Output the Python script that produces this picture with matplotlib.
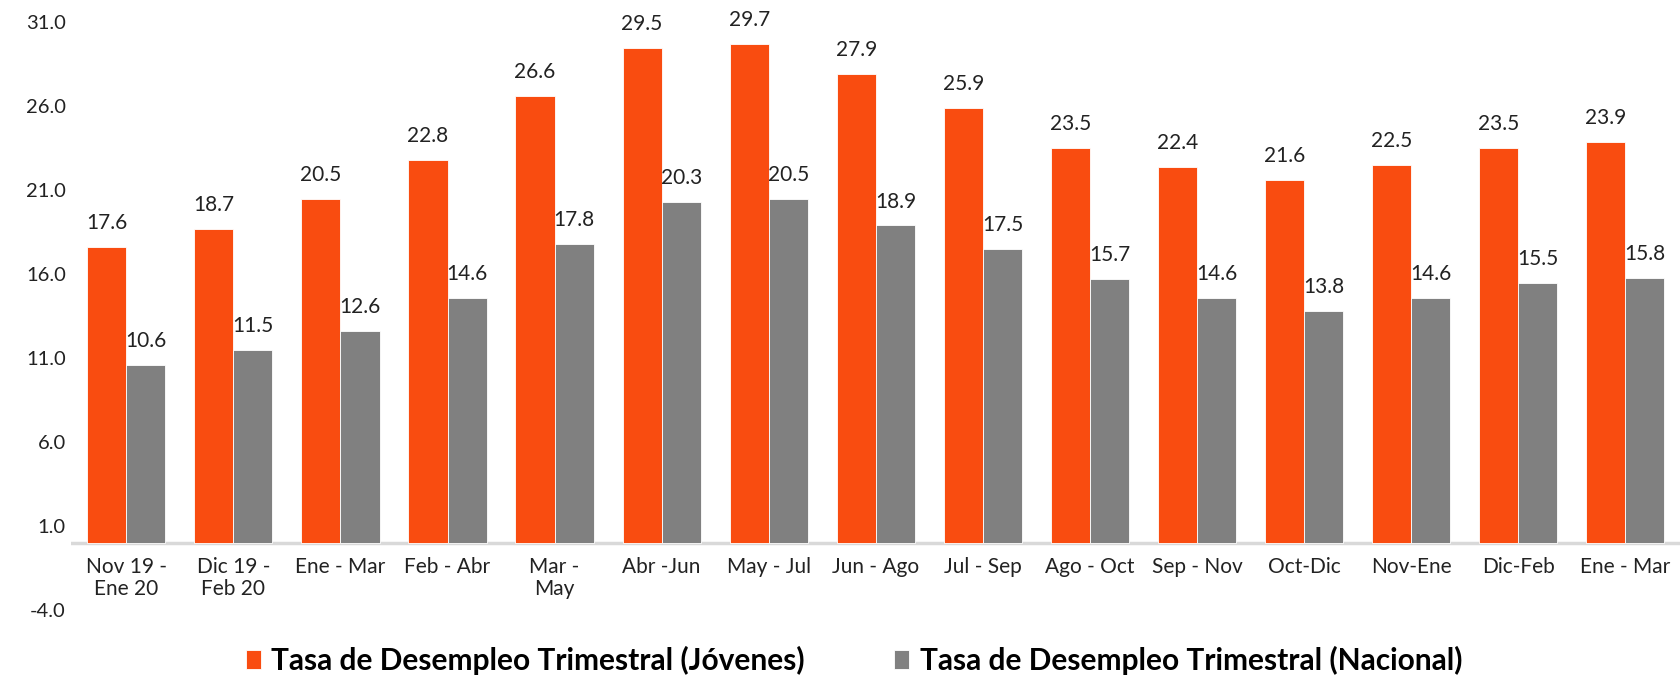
import matplotlib.pyplot as plt
import numpy as np

periodos = ["Nov 19 -\nEne 20", "Dic 19 -\nFeb 20", "Ene - Mar", "Feb - Abr", "Mar -\nMay",
            "Abr -Jun", "May - Jul", "Jun - Ago", "Jul - Sep", "Ago - Oct",
            "Sep - Nov", "Oct-Dic", "Nov-Ene", "Dic-Feb", "Ene - Mar"]
jovenes = [17.6, 18.7, 20.5, 22.8, 26.6, 29.5, 29.7, 27.9, 25.9, 23.5, 22.4, 21.6, 22.5, 23.5, 23.9]
nacional = [10.6, 11.5, 12.6, 14.6, 17.8, 20.3, 20.5, 18.9, 17.5, 15.7, 14.6, 13.8, 14.6, 15.5, 15.8]
yticks = [-4.0, 1.0, 6.0, 11.0, 16.0, 21.0, 26.0, 31.0]

plt.rcParams['font.family'] = ['Lato', 'DejaVu Sans']

fig = plt.figure(figsize=(16.81, 6.77), dpi=100)
ax = fig.add_axes([0.042, 0.099, 0.958, 0.868])

x = np.arange(len(periodos))
w = 0.365
b1 = ax.bar(x - w / 2, jovenes, w, color='#F94C10', edgecolor='white', linewidth=0.6,
            label='Tasa de Desempleo Trimestral (Jóvenes)')
b2 = ax.bar(x + w / 2, nacional, w, color='#808080', edgecolor='white', linewidth=0.6,
            label='Tasa de Desempleo Trimestral (Nacional)')

for bars, vals in [(b1, jovenes), (b2, nacional)]:
    for r, v in zip(bars, vals):
        ax.annotate(f"{v:.1f}", (r.get_x() + r.get_width() / 2, v), xytext=(0, 10),
                    textcoords='offset points', ha='center', va='bottom',
                    fontsize=15, color='#222222')

ax.axhline(0, color='#d9d9d9', linewidth=2.5, zorder=0)
ax.set_xlim(-0.52, len(periodos) - 0.48)
ax.set_ylim(-4, 31)
ax.set_yticks(yticks)
ax.set_yticklabels([f"{t:.1f}" for t in yticks], fontsize=14.5, color='#222222')
ax.set_xticks(x)
ax.set_xticklabels(periodos, fontsize=15, color='#222222', linespacing=1.12)
ax.tick_params(axis='both', length=0)
ax.tick_params(axis='x', pad=-38)
for s in ax.spines.values():
    s.set_visible(False)

fig.legend(loc='center', bbox_to_anchor=(0.508, 0.024), ncol=2, frameon=False,
           handlelength=0.5, handleheight=0.6, handletextpad=0.35,
           columnspacing=3.0, prop={'size': 21.5, 'weight': 'bold'})

fig.savefig('out.png', dpi=100)
